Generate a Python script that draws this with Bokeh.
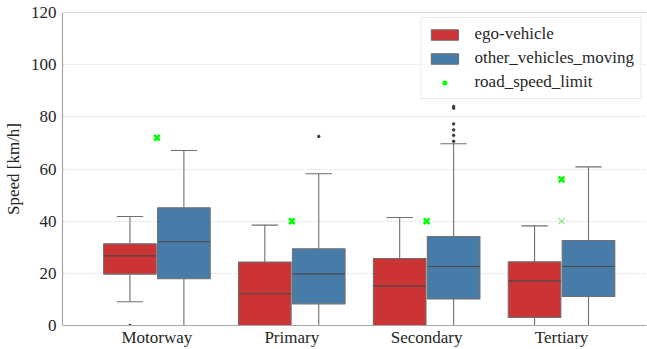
from bokeh.plotting import figure
from bokeh.models import (ColumnDataSource, Range1d, FixedTicker, Span, Legend, LegendItem)
from bokeh.transform import dodge
from bokeh.embed import file_html
from bokeh.resources import INLINE

# Road categories
categories = ["Motorway", "Primary", "Secondary", "Tertiary"]

# ego-vehicle box statistics (km/h)
ego_low = [9.1, 0.0, 0.0, 0.0]
ego_q1 = [19.7, 0.0, 0.0, 3.1]
ego_median = [26.7, 12.2, 15.1, 17.1]
ego_q3 = [31.3, 24.3, 25.7, 24.4]
ego_high = [41.8, 38.5, 41.4, 38.2]

# other moving vehicles box statistics (km/h)
other_low = [0.0, 0.0, 0.0, 0.0]
other_q1 = [17.9, 8.3, 10.2, 11.1]
other_median = [32.1, 19.8, 22.6, 22.6]
other_q3 = [45.1, 29.4, 34.1, 32.6]
other_high = [67.1, 58.2, 69.7, 60.8]

# outliers (category index, value)
ego_outlier_cat = [0]
ego_outlier_val = [0.0]
other_outlier_cat = [1, 2, 2, 2, 2, 2, 2]
other_outlier_val = [72.5, 70.6, 72.9, 75.0, 77.3, 83.3, 84.0]

# posted road speed limits
limit_cat = [0, 1, 2, 3]
limit_val = [72.0, 40.0, 40.0, 56.0]
limit_alt_cat = [3]
limit_alt_val = [40.0]

RED = "#cb3335"
BLUE = "#477ca8"
EDGE = "#6f6f6f"
MEDIAN = "#4a4a4a"
SPINE = "#a8a8a8"
FONT = "serif"

idx = list(range(len(categories)))

p = figure(width=647, height=349, output_backend="svg", toolbar_location=None,
           x_range=Range1d(-0.70, 3.63), y_range=Range1d(0, 120),
           min_border_left=59, min_border_top=12, min_border_bottom=24,
           min_border_right=1)
p.outline_line_color = None

# grid and spines
p.xgrid.visible = False
p.ygrid.ticker = FixedTicker(ticks=[20, 40, 60, 80, 100])
p.ygrid.grid_line_color = "#dedede"
p.ygrid.grid_line_dash = "2 2"
p.ygrid.grid_line_width = 1
p.add_layout(Span(location=120, dimension="width", line_color=SPINE, line_width=1.2))

p.axis.axis_line_color = SPINE
p.axis.axis_line_width = 1.2
p.axis.major_tick_out = 0
p.axis.major_tick_in = 0
p.axis.minor_tick_out = 0
p.axis.minor_tick_in = 0
p.axis.major_label_text_font = FONT
p.axis.major_label_text_font_size = "17px"
p.axis.major_label_text_color = "#262626"

p.xaxis.ticker = FixedTicker(ticks=idx)
p.xaxis.major_label_overrides = {i: c for i, c in enumerate(categories)}
p.xaxis.major_label_standoff = 2
p.yaxis.ticker = FixedTicker(ticks=[0, 20, 40, 60, 80, 100, 120])
p.yaxis.major_label_standoff = 6
p.yaxis.axis_label = "Speed [km/h]"
p.yaxis.axis_label_text_font = FONT
p.yaxis.axis_label_text_font_size = "17px"
p.yaxis.axis_label_text_font_style = "normal"
p.yaxis.axis_label_text_color = "#262626"
p.yaxis.axis_label_standoff = 5

OFF = 0.2
BOX_W = 0.39
CAP_W = 0.195


def draw_group(low, q1, med, q3, high, offset, color):
    src = ColumnDataSource(dict(x=idx, low=low, q1=q1, med=med, q3=q3, high=high))
    xd = dodge("x", offset)
    p.segment(x0=xd, y0="q3", x1=xd, y1="high", source=src, line_color=EDGE, line_width=1.1)
    p.segment(x0=xd, y0="low", x1=xd, y1="q1", source=src, line_color=EDGE, line_width=1.1)
    p.segment(x0=dodge("x", offset - CAP_W / 2), y0="high",
              x1=dodge("x", offset + CAP_W / 2), y1="high",
              source=src, line_color=EDGE, line_width=1.1)
    p.segment(x0=dodge("x", offset - CAP_W / 2), y0="low",
              x1=dodge("x", offset + CAP_W / 2), y1="low",
              source=src, line_color=EDGE, line_width=1.1)
    box = p.vbar(x=xd, width=BOX_W, bottom="q1", top="q3", source=src,
                 fill_color=color, line_color=EDGE, line_width=1.1)
    p.segment(x0=dodge("x", offset - BOX_W / 2), y0="med",
              x1=dodge("x", offset + BOX_W / 2), y1="med",
              source=src, line_color=MEDIAN, line_width=1.1)
    return box


ego_box = draw_group(ego_low, ego_q1, ego_median, ego_q3, ego_high, -OFF, RED)
other_box = draw_group(other_low, other_q1, other_median, other_q3, other_high, OFF, BLUE)

ego_out = ColumnDataSource(dict(x=ego_outlier_cat, y=ego_outlier_val))
p.scatter(x=dodge("x", -OFF), y="y", source=ego_out, size=2.5, color="#3a3a3a")
other_out = ColumnDataSource(dict(x=other_outlier_cat, y=other_outlier_val))
p.scatter(x=dodge("x", OFF), y="y", source=other_out, size=2.5, color="#3a3a3a")

lim_src = ColumnDataSource(dict(x=limit_cat, y=limit_val))
limit = p.scatter(x="x", y="y", source=lim_src, marker="x", size=8,
                  line_color="#00ff00", line_width=2.6)
alt_src = ColumnDataSource(dict(x=limit_alt_cat, y=limit_alt_val))
p.scatter(x="x", y="y", source=alt_src, marker="x", size=9,
          line_color="#33ee33", line_width=1)

legend = Legend(items=[
    LegendItem(label="ego-vehicle", renderers=[ego_box]),
    LegendItem(label="other_vehicles_moving", renderers=[other_box]),
    LegendItem(label="road_speed_limit", renderers=[limit]),
], location="top_right")
legend.label_text_font = FONT
legend.label_text_font_size = "17px"
legend.label_text_color = "#262626"
legend.glyph_width = 34
legend.glyph_height = 13
legend.label_standoff = 13
legend.spacing = 4
legend.padding = 6
legend.margin = 5
legend.border_line_color = "#d6d6d6"
legend.border_line_width = 1
legend.background_fill_alpha = 0.9
p.add_layout(legend, "center")

open("out.html", "w").write(file_html(p, INLINE))
